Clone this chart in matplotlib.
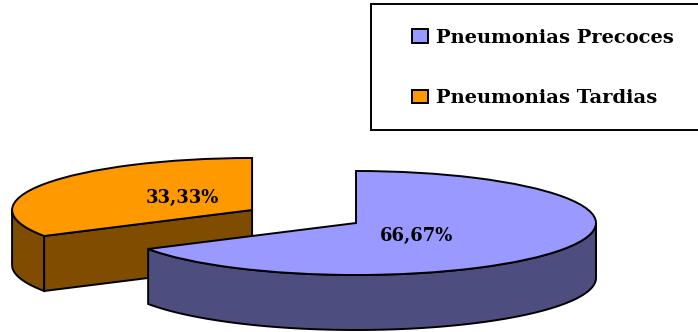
import numpy as np
import matplotlib
matplotlib.use('Agg')
import matplotlib.pyplot as plt
from matplotlib.patches import Patch, Rectangle

plt.rcParams['font.family'] = ['DejaVu Serif']

categorias = ['Pneumonias Precoces', 'Pneumonias Tardias']
valores = [66.67, 33.33]
cores = ['#9999FF', '#FF9900']
cores_lado = ['#4D4D80', '#804D00']
explode = [0, 0.5]

# escala da pizza em pixels: raio horizontal, raio vertical, espessura
W, H = 698, 332
CX, CY = 356, 223
RX, RY, ESP = 240, 52, 55
LW = 1.4

fig = plt.figure(figsize=(W / 100, H / 100), dpi=100)
ax = fig.add_axes([0, 0, 1, 1])
fatias, _ = ax.pie(valores, colors=cores, explode=explode, startangle=90, counterclock=False,
                   wedgeprops={'edgecolor': 'black', 'linewidth': LW})
ax.set_aspect('auto')
ax.set_xlim(-CX / RX, (W - CX) / RX)
ax.set_ylim((CY - H) / RY, CY / RY)
ax.axis('off')

prof = ESP / RY


def faixa(xs, ys, cor, z):
    # parede vertical abaixo de uma linha do topo
    ax.fill(np.r_[xs, xs[::-1]], np.r_[ys, ys[::-1] - prof], facecolor=cor,
            edgecolor='black', linewidth=LW, zorder=z)


def paredes(fatia, cor, z):
    cx, cy = fatia.center
    t1 = fatia.theta1 % 360
    t2 = fatia.theta2 % 360
    if t2 <= t1:
        t2 += 360
    # arco da frente
    ini, fim = max(t1, 180), min(t2, 360)
    if fim > ini:
        ang = np.radians(np.linspace(ini, fim, 80))
        faixa(cx + np.cos(ang), cy + np.sin(ang), cor, z)
    # cortes radiais voltados para a frente
    for t, visivel in ((t2, np.cos(np.radians(t2)) < -1e-6), (t1, np.cos(np.radians(t1)) > 1e-6)):
        if visivel:
            a = np.radians(t)
            faixa(np.array([cx, cx + np.cos(a)]), np.array([cy, cy + np.sin(a)]), cor, z)


# a fatia de tras vem primeiro, a da frente cobre
zordem = [3, 1]
for fatia, cor, z in zip(fatias, cores_lado, zordem):
    paredes(fatia, cor, z)
    fatia.set_zorder(z + 1)

# camada em pixels para moldura e textos
ov = fig.add_axes([0, 0, 1, 1])
ov.set_xlim(0, W)
ov.set_ylim(H, 0)
ov.axis('off')
ov.patch.set_alpha(0)

ov.add_patch(Rectangle((371, 4), 340, 125.5, facecolor='white', edgecolor='black', linewidth=LW))

handles = [Patch(facecolor=c, edgecolor='black', linewidth=LW) for c in cores]
ov.legend(handles, categorias, loc='upper left', bbox_to_anchor=(399, 16), bbox_transform=ov.transData,
          frameon=False, prop={'weight': 'bold', 'size': 14}, handlelength=0.85, handleheight=0.7,
          handletextpad=0.4, labelspacing=2.2, borderpad=0.15)

pos_rotulos = [(417, 236), (182, 198)]
for v, (x, y) in zip(valores, pos_rotulos):
    ov.text(x, y, f'{v:.2f}%'.replace('.', ','), ha='center', va='center',
            fontweight='bold', fontsize=13)

fig.savefig('out.png', dpi=100)
